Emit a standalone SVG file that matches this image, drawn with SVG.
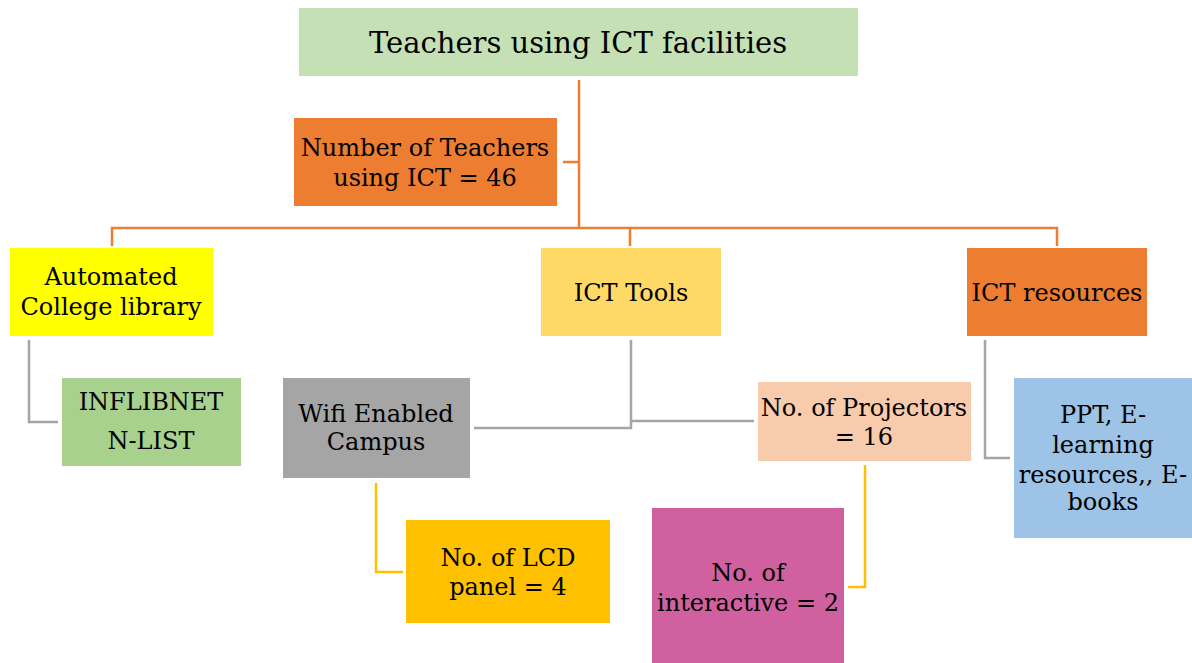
<svg xmlns="http://www.w3.org/2000/svg" width="1192" height="663" viewBox="0 0 1192 663">
<style>
text{font-family:"DejaVu Serif","Liberation Serif",serif;fill:#000;text-anchor:middle;font-size:24px}
.t{font-size:29px}
.c{fill:none;stroke-width:2.5}
.o{stroke:#ed7d31}.g{stroke:#a5a5a5}.y{stroke:#ffc000}
</style>
<rect width="1192" height="663" fill="#fff"/>
<g id="connectors">
<path class="c o" d="M579 80V228M563 162H579M112 246V228H1057V246M630 228V246"/>
<path class="c g" d="M29 340V422H58M631 340V428H474M631 421H754M985 340V458H1010"/>
<path class="c y" d="M376 483V572H403M865 465V587H848"/>
</g>
<g id="title"><rect x="299" y="8" width="559" height="68" fill="#c5e0b4"/><text class="t" x="578" y="53">Teachers using ICT facilities</text></g>
<g id="number"><rect x="294" y="118" width="263" height="88" fill="#ed7d31"/><text x="425" y="156">Number of Teachers</text><text x="425" y="186">using ICT = 46</text></g>
<g id="library"><rect x="10" y="248" width="203" height="88" fill="#ffff00"/><text x="111" y="285">Automated</text><text x="111" y="315">College library</text></g>
<g id="tools"><rect x="541" y="248" width="180" height="88" fill="#ffd966"/><text x="631" y="301">ICT Tools</text></g>
<g id="resources"><rect x="967" y="248" width="180" height="88" fill="#ed7d31"/><text x="1057" y="301">ICT resources</text></g>
<g id="inflibnet"><rect x="62" y="378" width="179" height="88" fill="#a9d18e"/><text x="151" y="410">INFLIBNET</text><text x="151" y="449">N-LIST</text></g>
<g id="wifi"><rect x="283" y="378" width="187" height="100" fill="#a5a5a5"/><text x="376" y="422">Wifi Enabled</text><text x="376" y="450">Campus</text></g>
<g id="projectors"><rect x="758" y="382" width="213" height="79" fill="#f8cbad"/><text x="864" y="416">No. of Projectors</text><text x="864" y="445">= 16</text></g>
<g id="ppt"><rect x="1014" y="378" width="178" height="160" fill="#9dc3e6"/><text x="1103" y="423">PPT, E-</text><text x="1103" y="453">learning</text><text x="1103" y="483">resources,, E-</text><text x="1103" y="510">books</text></g>
<g id="lcd"><rect x="406" y="520" width="204" height="103" fill="#ffc000"/><text x="508" y="566">No. of LCD</text><text x="508" y="595">panel = 4</text></g>
<g id="interactive"><rect x="652" y="508" width="192" height="155" fill="#d160a0"/><text x="748" y="581">No. of</text><text x="748" y="611">interactive = 2</text></g>
</svg>
